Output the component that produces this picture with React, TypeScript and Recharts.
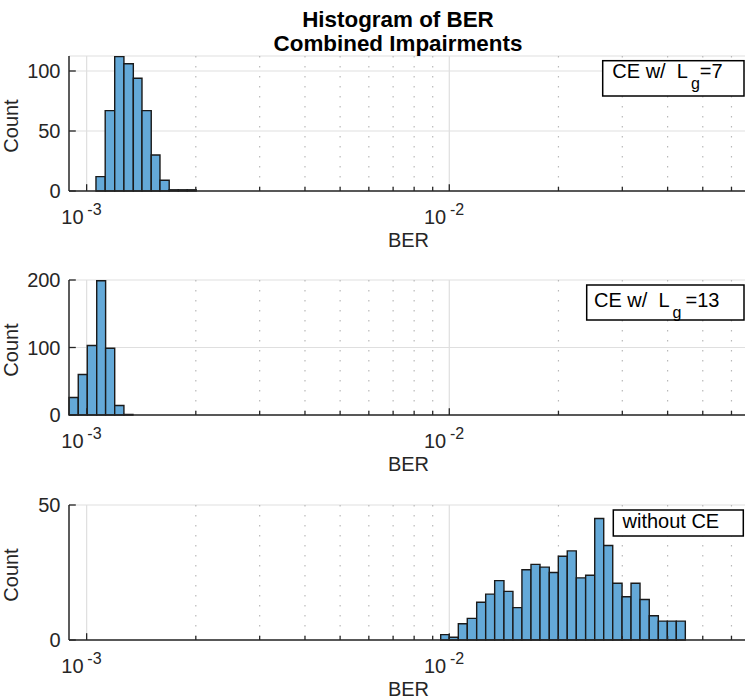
import React from "react";
import { CartesianGrid, ComposedChart, ReferenceArea, Scatter, XAxis, YAxis } from "recharts";

const FONT = '"Liberation Sans", Arial, Helvetica, sans-serif';
const INK = "#262626";
const BAR_FILL = "#64a9d8";
const BAR_EDGE = "#1a1a1a";
const GRID = "#dfdfdf";
const MINOR_GRID = "#b9b9b9";

const titleLines = ["Histogram of BER", "Combined Impairments"];
const xLabel = "BER";
const yLabel = "Count";

const berDomain: [number, number] = [0.000894, 0.06538];
const decadeTicks = [0.001, 0.01];
const decadeExponents = ["-3", "-2"];
const minorTicks = [0.002, 0.003, 0.004, 0.005, 0.006, 0.007, 0.008, 0.009, 0.02, 0.03, 0.04, 0.05, 0.06];

// CE w/ Lg=7
const edgesLg7 = [0.001061, 0.001125, 0.001195, 0.001267, 0.001345, 0.001421, 0.001507, 0.001593, 0.001689, 0.001789, 0.001894, 0.002005];
const countsLg7 = [12, 67, 112, 106, 94, 67, 30, 9, 1, 1, 1];
const yTicksLg7 = [0, 50, 100];
const yMaxLg7 = 112.5;

// CE w/ Lg=13
const edgesLg13 = [0.000894, 0.0009481, 0.001004, 0.001066, 0.001128, 0.001195, 0.001267, 0.001342];
const countsLg13 = [26, 60, 103, 199, 99, 14, 1];
const yTicksLg13 = [0, 100, 200];
const yMaxLg13 = 200;

// without CE
const edgesNoCE = [
  0.009469, 0.01, 0.01059, 0.01121, 0.0119, 0.0126, 0.01334, 0.01415, 0.01498, 0.01586,
  0.0168, 0.01779, 0.01887, 0.01998, 0.02115, 0.0224, 0.02377, 0.02518, 0.02666, 0.02823,
  0.02995, 0.03171, 0.03357, 0.0356, 0.03771, 0.03993, 0.04227, 0.04476,
];
const countsNoCE = [2, 1, 6, 8, 14, 17, 22, 18, 12, 26, 28, 27, 25, 31, 33, 23, 24, 45, 35, 21, 16, 21, 15, 9, 7, 7, 7];
const yTicksNoCE = [0, 50];
const yMaxNoCE = 50;

const legendNames = [
  { main: "CE w/  L", sub: "g", tail: "=7" },
  { main: "CE w/  L", sub: "g", tail: "=13" },
  { main: "without CE", sub: "", tail: "" },
];

const allXTicks = [...decadeTicks, ...minorTicks].sort((a, b) => a - b);

const PLOT_H = 135;
const MARGIN_TOP = 10;
const X_AXIS_H = 60;

function toBins(edges: number[], counts: number[]) {
  return counts.map((count, i) => ({
    lo: edges[i],
    hi: edges[i + 1],
    mid: Math.sqrt(edges[i] * edges[i + 1]),
    count,
  }));
}

function scaleOf(axis: any) {
  const s = axis?.scale;
  if (typeof s === "function") return (v: number) => s(v);
  if (s && typeof s.map === "function") return (v: number) => s.map(v);
  return null;
}

const gridAt = (values: number[]) => (props: any) => {
  const s = scaleOf(props?.xAxis);
  return s ? values.map((v) => s(v)) : [];
};

function BottomTick(props: any) {
  const { x, y, payload } = props;
  const i = decadeTicks.indexOf(payload.value);
  const len = i >= 0 ? 6.8 : 4;
  return (
    <g>
      <line x1={x} x2={x} y1={y} y2={y - len} stroke={INK} strokeWidth={1.3} />
      {i >= 0 && (
        <g fontFamily={FONT} fill={INK}>
          <text x={x - 3.1} y={y + 32.6} fontSize={20} textAnchor="end">
            10
          </text>
          <text x={x + 0.7} y={y + 24.3} fontSize={16} textAnchor="start">
            {decadeExponents[i]}
          </text>
        </g>
      )}
    </g>
  );
}

function TopTick(props: any) {
  const { x, y, payload } = props;
  const len = decadeTicks.includes(payload.value) ? 6.8 : 4;
  return <line x1={x} x2={x} y1={y} y2={y + len} stroke={INK} strokeWidth={1.3} />;
}

function LeftTick(props: any) {
  const { x, y, payload } = props;
  return (
    <g>
      <line x1={x} x2={x + 6.8} y1={y} y2={y} stroke={INK} strokeWidth={1.3} />
      <text x={x - 8.5} y={y + 7} fontSize={20} fontFamily={FONT} fill={INK} textAnchor="end">
        {payload.value}
      </text>
    </g>
  );
}

function RightTick(props: any) {
  const { x, y } = props;
  return <line x1={x} x2={x - 6.8} y1={y} y2={y} stroke={INK} strokeWidth={1.3} />;
}

function Panel({ plotTop, edges, counts, yMax, yTicks }: {
  plotTop: number;
  edges: number[];
  counts: number[];
  yMax: number;
  yTicks: number[];
}) {
  const bins = toBins(edges, counts);
  const axisLine = { stroke: INK, strokeWidth: 1.5 };
  return (
    <div style={{ position: "absolute", left: 0, top: plotTop - MARGIN_TOP }}>
      <ComposedChart
        width={747}
        height={MARGIN_TOP + PLOT_H + X_AXIS_H}
        margin={{ top: MARGIN_TOP, right: 2, bottom: 0, left: 0 }}
      >
        <CartesianGrid stroke={GRID} strokeWidth={1.2} verticalCoordinatesGenerator={gridAt(decadeTicks)} />
        <CartesianGrid
          stroke={MINOR_GRID}
          strokeWidth={1.2}
          strokeDasharray="1.5 8.5"
          horizontal={false}
          verticalCoordinatesGenerator={gridAt(minorTicks)}
        />
        <Scatter data={bins} dataKey="count" shape={() => <g />} isAnimationActive={false} />
        {bins.map((b, i) => (
          <ReferenceArea
            key={i}
            x1={b.lo}
            x2={b.hi}
            y1={0}
            y2={b.count}
            fill={BAR_FILL}
            fillOpacity={1}
            stroke={BAR_EDGE}
            strokeWidth={1.4}
            ifOverflow="visible"
          />
        ))}
        <XAxis
          type="number"
          dataKey="mid"
          scale="log"
          domain={berDomain}
          allowDataOverflow
          ticks={allXTicks}
          interval={0}
          tick={<BottomTick />}
          tickSize={0}
          tickMargin={0}
          tickLine={false}
          axisLine={axisLine}
          height={X_AXIS_H}
          label={{
            value: xLabel,
            content: (p: any) => {
              const vb = p.viewBox || {};
              return (
                <text
                  x={vb.x + vb.width / 2 + 1.5}
                  y={vb.y + 56}
                  fontSize={20}
                  fontFamily={FONT}
                  fill={INK}
                  textAnchor="middle"
                >
                  {xLabel}
                </text>
              );
            },
          }}
        />
        <XAxis
          xAxisId="top"
          orientation="top"
          type="number"
          scale="log"
          domain={berDomain}
          allowDataOverflow
          ticks={allXTicks}
          interval={0}
          tick={<TopTick />}
          tickSize={0}
          tickMargin={0}
          tickLine={false}
          axisLine={axisLine}
          height={0}
        />
        <YAxis
          type="number"
          dataKey="count"
          domain={[0, yMax]}
          allowDataOverflow
          ticks={yTicks}
          interval={0}
          tick={<LeftTick />}
          tickSize={0}
          tickMargin={0}
          tickLine={false}
          axisLine={axisLine}
          width={69}
          label={{
            value: yLabel,
            content: (p: any) => {
              const vb = p.viewBox || {};
              const cy = vb.y + vb.height / 2 + 2.5;
              return (
                <text
                  x={18}
                  y={cy}
                  transform={`rotate(-90 18 ${cy})`}
                  fontSize={20}
                  fontFamily={FONT}
                  fill={INK}
                  textAnchor="middle"
                >
                  {yLabel}
                </text>
              );
            },
          }}
        />
        <YAxis
          yAxisId="right"
          orientation="right"
          type="number"
          domain={[0, yMax]}
          allowDataOverflow
          ticks={yTicks}
          interval={0}
          tick={<RightTick />}
          tickSize={0}
          tickMargin={0}
          tickLine={false}
          axisLine={axisLine}
          width={0}
        />
      </ComposedChart>
    </div>
  );
}

function LegendBox({ x, y, w, h, tx, ty, tailDx, name }: any) {
  return (
    <g>
      <rect x={x} y={y} width={w} height={h} fill="#ffffff" stroke="#000000" strokeWidth={1.5} />
      <text x={tx} y={ty} fontSize={20} fontFamily={FONT} fill="#000000" style={{ whiteSpace: "pre" }}>
        {name.main}
        {name.sub && (
          <tspan fontSize={16} dx={3} dy={10.5}>
            {name.sub}
          </tspan>
        )}
        {name.tail && (
          <tspan fontSize={20} dx={tailDx} dy={-10.5}>
            {name.tail}
          </tspan>
        )}
      </text>
    </g>
  );
}

export default function App() {
  return (
    <div style={{ position: "absolute", left: 0, top: 0, width: 747, height: 699, overflow: "hidden", background: "#ffffff" }}>
      <Panel plotTop={55.7} edges={edgesLg7} counts={countsLg7} yMax={yMaxLg7} yTicks={yTicksLg7} />
      <Panel plotTop={280.2} edges={edgesLg13} counts={countsLg13} yMax={yMaxLg13} yTicks={yTicksLg13} />
      <Panel plotTop={504.7} edges={edgesNoCE} counts={countsNoCE} yMax={yMaxNoCE} yTicks={yTicksNoCE} />
      <svg width={747} height={699} style={{ position: "absolute", left: 0, top: 0, pointerEvents: "none" }}>
        <g fontFamily={FONT} fontWeight="bold" fontSize={22.4} fill="#000000" textAnchor="middle">
          <text x={398} y={26.5}>{titleLines[0]}</text>
          <text x={398} y={50.5}>{titleLines[1]}</text>
        </g>
        <LegendBox x={602.7} y={60.7} w={141.3} h={35.3} tx={612.3} ty={78.3} tailDx={0} name={legendNames[0]} />
        <LegendBox x={586.7} y={285} w={157.3} h={35} tx={594} ty={307.3} tailDx={4} name={legendNames[1]} />
        <LegendBox x={613.3} y={510} w={130} h={26} tx={622.5} ty={528.3} tailDx={0} name={legendNames[2]} />
      </svg>
    </div>
  );
}
